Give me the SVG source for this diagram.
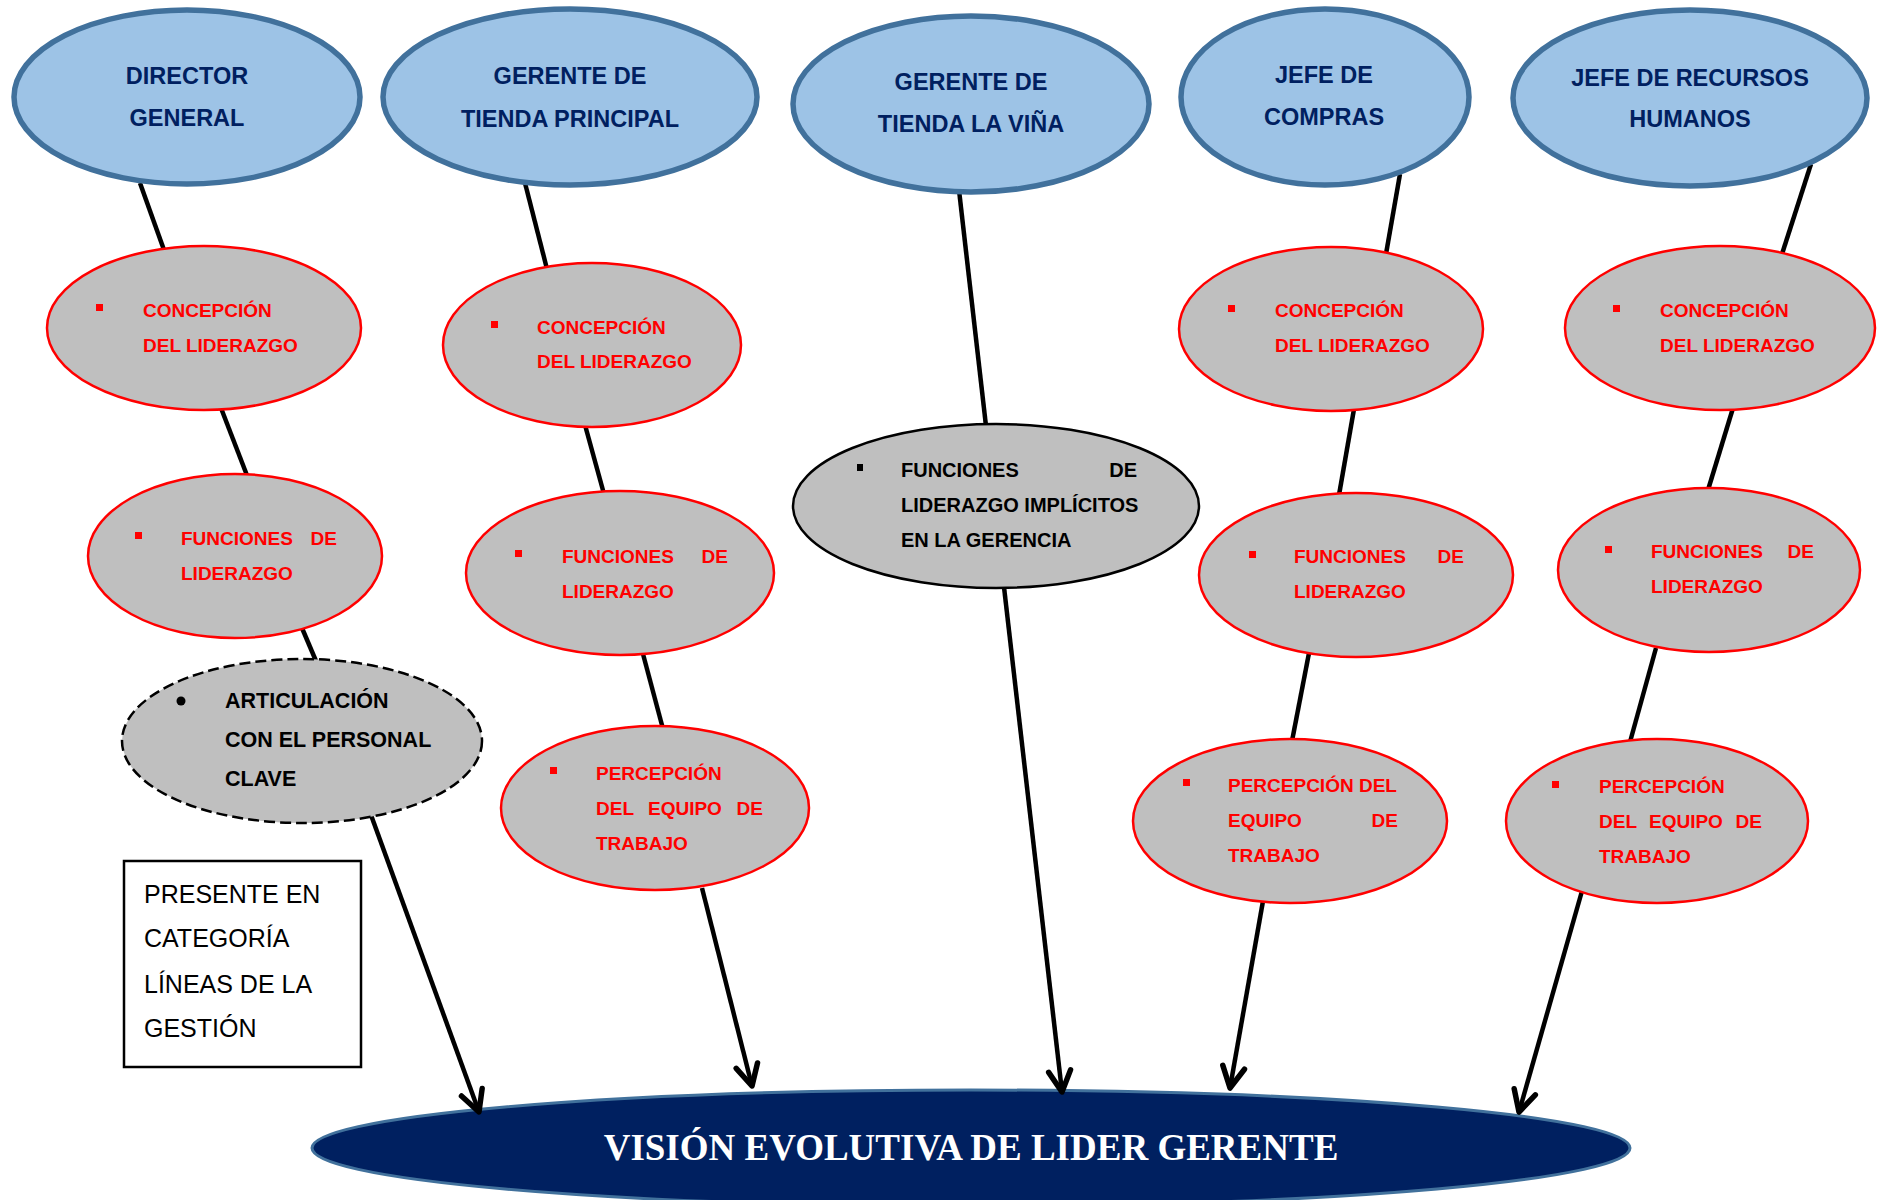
<svg xmlns="http://www.w3.org/2000/svg" width="1879" height="1200" viewBox="0 0 1879 1200">
  <style>
    .role { fill: #9dc3e6; stroke: #41719c; stroke-width: 5.5; }
    .role-text { font-family: "Liberation Sans", Arial, sans-serif; font-weight: bold; font-size: 23.5px; fill: #002060; text-anchor: middle; }
    .topic { fill: #bfbfbf; stroke: #ff0000; stroke-width: 2.5; }
    .topic-text { font-family: "Liberation Sans", Arial, sans-serif; font-weight: bold; font-size: 19px; fill: #ff0000; }
    .bullet-red { fill: #ff0000; }
    .dark-text { font-family: "Liberation Sans", Arial, sans-serif; font-weight: bold; fill: #000000; }
    .link { stroke: #000000; stroke-width: 4.5; fill: none; stroke-linecap: butt; }
    .arrow { stroke: #000000; stroke-width: 4.5; fill: none; marker-end: url(#chevron); }
    .note-text { font-family: "Liberation Sans", Arial, sans-serif; font-size: 25px; fill: #000000; }
  </style>
  <defs>
    <marker id="chevron" markerUnits="userSpaceOnUse" markerWidth="40" markerHeight="40" refX="0" refY="0" orient="auto" overflow="visible">
      <path d="M -21 -11 L 0 0 L -21 11" fill="none" stroke="#000000" stroke-width="5.5" stroke-linecap="round" stroke-linejoin="round"/>
    </marker>
  </defs>

  <rect width="1879" height="1200" fill="#ffffff"/>

  <!-- Goal node at the bottom -->
  <g id="vision">
    <ellipse cx="971" cy="1148" rx="659" ry="58" fill="#002060" stroke="#41719c" stroke-width="3"/>
    <text x="971" y="1160" text-anchor="middle" font-family="'Liberation Serif', 'Times New Roman', serif" font-weight="bold" font-size="37" fill="#ffffff">VISIÓN EVOLUTIVA DE LIDER GERENTE</text>
  </g>

  <!-- Connectors -->
  <g id="connectors">
    <line class="link" x1="140" y1="183" x2="164" y2="250"/>
    <line class="link" x1="221" y1="408" x2="248" y2="478"/>
    <line class="link" x1="302" y1="628" x2="316" y2="661"/>
    <line class="arrow" x1="371" y1="815" x2="479" y2="1112"/>

    <line class="link" x1="525" y1="183" x2="547" y2="269"/>
    <line class="link" x1="585" y1="425" x2="604" y2="494"/>
    <line class="link" x1="643" y1="654" x2="663" y2="729"/>
    <line class="arrow" x1="702" y1="888" x2="752" y2="1086"/>

    <line class="link" x1="959" y1="190" x2="986" y2="426"/>
    <line class="arrow" x1="1004" y1="587" x2="1062" y2="1092"/>

    <line class="link" x1="1400" y1="174" x2="1386" y2="254"/>
    <line class="link" x1="1354" y1="409" x2="1339" y2="495"/>
    <line class="link" x1="1309" y1="653" x2="1292" y2="741"/>
    <line class="arrow" x1="1263" y1="901" x2="1230" y2="1088"/>

    <line class="link" x1="1811" y1="164" x2="1782" y2="254"/>
    <line class="link" x1="1733" y1="408" x2="1708" y2="490"/>
    <line class="link" x1="1656" y1="648" x2="1630" y2="742"/>
    <line class="arrow" x1="1582" y1="891" x2="1519" y2="1112"/>
  </g>

  <!-- Roles -->
  <g id="director-general">
    <ellipse class="role" cx="187" cy="97" rx="173" ry="87"/>
    <text class="role-text" x="187" y="84">DIRECTOR</text>
    <text class="role-text" x="187" y="126">GENERAL</text>
  </g>
  <g id="gerente-tienda-principal">
    <ellipse class="role" cx="570" cy="97" rx="187" ry="88"/>
    <text class="role-text" x="570" y="84">GERENTE DE</text>
    <text class="role-text" x="570" y="127">TIENDA PRINCIPAL</text>
  </g>
  <g id="gerente-tienda-la-vina">
    <ellipse class="role" cx="971" cy="104" rx="178" ry="88"/>
    <text class="role-text" x="971" y="90">GERENTE DE</text>
    <text class="role-text" x="971" y="132">TIENDA LA VIÑA</text>
  </g>
  <g id="jefe-compras">
    <ellipse class="role" cx="1325" cy="97" rx="144" ry="88"/>
    <text class="role-text" x="1324" y="83">JEFE DE</text>
    <text class="role-text" x="1324" y="125">COMPRAS</text>
  </g>
  <g id="jefe-rrhh">
    <ellipse class="role" cx="1690" cy="98" rx="177" ry="88"/>
    <text class="role-text" x="1690" y="86">JEFE DE RECURSOS</text>
    <text class="role-text" x="1690" y="127">HUMANOS</text>
  </g>

  <!-- Director general branch -->
  <g id="dg-concepcion">
    <ellipse class="topic" cx="204" cy="328" rx="157" ry="82"/>
    <rect class="bullet-red" x="96" y="304" width="7" height="7"/>
    <text class="topic-text" x="143" y="317">CONCEPCIÓN</text>
    <text class="topic-text" x="143" y="352">DEL LIDERAZGO</text>
  </g>
  <g id="dg-funciones">
    <ellipse class="topic" cx="235" cy="556" rx="147" ry="82"/>
    <rect class="bullet-red" x="135" y="532" width="7" height="7"/>
    <text class="topic-text" x="181" y="545">FUNCIONES</text>
    <text class="topic-text" x="337" y="545" text-anchor="end">DE</text>
    <text class="topic-text" x="181" y="580">LIDERAZGO</text>
  </g>
  <g id="dg-articulacion">
    <ellipse cx="302" cy="741" rx="180" ry="82" fill="#bfbfbf" stroke="#000000" stroke-width="2.5" stroke-dasharray="11 5"/>
    <circle cx="181" cy="701" r="4.5" fill="#000000"/>
    <text class="dark-text" font-size="21.5" x="225" y="708">ARTICULACIÓN</text>
    <text class="dark-text" font-size="21.5" x="225" y="747">CON EL PERSONAL</text>
    <text class="dark-text" font-size="21.5" x="225" y="786">CLAVE</text>
  </g>

  <!-- Gerente tienda principal branch -->
  <g id="gtp-concepcion">
    <ellipse class="topic" cx="592" cy="345" rx="149" ry="82"/>
    <rect class="bullet-red" x="491" y="321" width="7" height="7"/>
    <text class="topic-text" x="537" y="334">CONCEPCIÓN</text>
    <text class="topic-text" x="537" y="368">DEL LIDERAZGO</text>
  </g>
  <g id="gtp-funciones">
    <ellipse class="topic" cx="620" cy="573" rx="154" ry="82"/>
    <rect class="bullet-red" x="515" y="550" width="7" height="7"/>
    <text class="topic-text" x="562" y="563">FUNCIONES</text>
    <text class="topic-text" x="728" y="563" text-anchor="end">DE</text>
    <text class="topic-text" x="562" y="598">LIDERAZGO</text>
  </g>
  <g id="gtp-percepcion">
    <ellipse class="topic" cx="655" cy="808" rx="154" ry="82"/>
    <rect class="bullet-red" x="550" y="767" width="7" height="7"/>
    <text class="topic-text" x="596" y="780">PERCEPCIÓN</text>
    <text class="topic-text" x="596" y="815">DEL</text>
    <text class="topic-text" x="648" y="815">EQUIPO</text>
    <text class="topic-text" x="763" y="815" text-anchor="end">DE</text>
    <text class="topic-text" x="596" y="850">TRABAJO</text>
  </g>

  <!-- Gerente tienda la Viña branch -->
  <g id="gtv-funciones">
    <ellipse cx="996" cy="506" rx="203" ry="82" fill="#bfbfbf" stroke="#000000" stroke-width="2.5"/>
    <rect x="857" y="464" width="6" height="7" fill="#000000"/>
    <text class="dark-text" font-size="20" x="901" y="477">FUNCIONES</text>
    <text class="dark-text" font-size="20" x="1137" y="477" text-anchor="end">DE</text>
    <text class="dark-text" font-size="20" x="901" y="512">LIDERAZGO IMPLÍCITOS</text>
    <text class="dark-text" font-size="20" x="901" y="547">EN LA GERENCIA</text>
  </g>

  <!-- Jefe de compras branch -->
  <g id="jc-concepcion">
    <ellipse class="topic" cx="1331" cy="329" rx="152" ry="82"/>
    <rect class="bullet-red" x="1228" y="305" width="7" height="7"/>
    <text class="topic-text" x="1275" y="317">CONCEPCIÓN</text>
    <text class="topic-text" x="1275" y="352">DEL LIDERAZGO</text>
  </g>
  <g id="jc-funciones">
    <ellipse class="topic" cx="1356" cy="575" rx="157" ry="82"/>
    <rect class="bullet-red" x="1249" y="551" width="7" height="7"/>
    <text class="topic-text" x="1294" y="563">FUNCIONES</text>
    <text class="topic-text" x="1464" y="563" text-anchor="end">DE</text>
    <text class="topic-text" x="1294" y="598">LIDERAZGO</text>
  </g>
  <g id="jc-percepcion">
    <ellipse class="topic" cx="1290" cy="821" rx="157" ry="82"/>
    <rect class="bullet-red" x="1183" y="779" width="7" height="7"/>
    <text class="topic-text" x="1228" y="792">PERCEPCIÓN DEL</text>
    <text class="topic-text" x="1228" y="827">EQUIPO</text>
    <text class="topic-text" x="1398" y="827" text-anchor="end">DE</text>
    <text class="topic-text" x="1228" y="862">TRABAJO</text>
  </g>

  <!-- Jefe de recursos humanos branch -->
  <g id="rh-concepcion">
    <ellipse class="topic" cx="1720" cy="328" rx="155" ry="82"/>
    <rect class="bullet-red" x="1613" y="305" width="7" height="7"/>
    <text class="topic-text" x="1660" y="317">CONCEPCIÓN</text>
    <text class="topic-text" x="1660" y="352">DEL LIDERAZGO</text>
  </g>
  <g id="rh-funciones">
    <ellipse class="topic" cx="1709" cy="570" rx="151" ry="82"/>
    <rect class="bullet-red" x="1605" y="546" width="7" height="7"/>
    <text class="topic-text" x="1651" y="558">FUNCIONES</text>
    <text class="topic-text" x="1814" y="558" text-anchor="end">DE</text>
    <text class="topic-text" x="1651" y="593">LIDERAZGO</text>
  </g>
  <g id="rh-percepcion">
    <ellipse class="topic" cx="1657" cy="821" rx="151" ry="82"/>
    <rect class="bullet-red" x="1552" y="781" width="7" height="7"/>
    <text class="topic-text" x="1599" y="793">PERCEPCIÓN</text>
    <text class="topic-text" x="1599" y="828">DEL</text>
    <text class="topic-text" x="1649" y="828">EQUIPO</text>
    <text class="topic-text" x="1762" y="828" text-anchor="end">DE</text>
    <text class="topic-text" x="1599" y="863">TRABAJO</text>
  </g>

  <!-- Legend box -->
  <g id="nota-categoria">
    <rect x="124" y="861" width="237" height="206" fill="#ffffff" stroke="#000000" stroke-width="2.5"/>
    <text class="note-text" x="144" y="903">PRESENTE EN</text>
    <text class="note-text" x="144" y="947">CATEGORÍA</text>
    <text class="note-text" x="144" y="993">LÍNEAS DE LA</text>
    <text class="note-text" x="144" y="1037">GESTIÓN</text>
  </g>
</svg>
